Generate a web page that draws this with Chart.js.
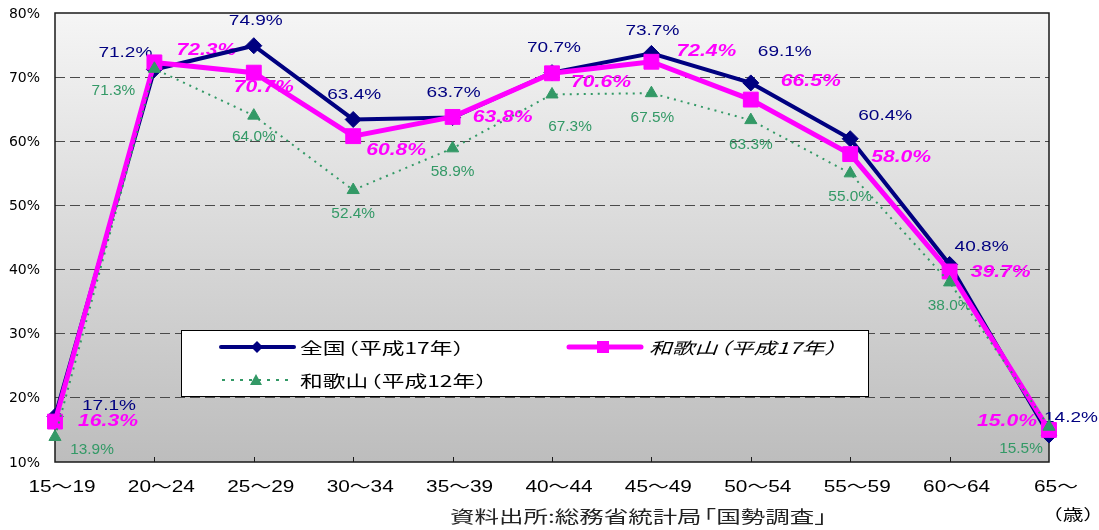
<!DOCTYPE html>
<html lang="ja">
<head>
<meta charset="utf-8">
<title>年齢階級別 女性の労働力率</title>
<script src="https://cdn.jsdelivr.net/npm/chart.js@4.4.1/dist/chart.umd.min.js"></script>
<style>
  html, body { margin: 0; padding: 0; background: #fff; }
  #wrap { width: 1099px; height: 530px; position: relative; }
  canvas { display: block; }
</style>
</head>
<body>
<div id="wrap"><canvas id="chart" width="1099" height="530"></canvas></div>
<script>
// ---- data ----
const ageGroups = ['15～19', '20～24', '25～29', '30～34', '35～39', '40～44',
                   '45～49', '50～54', '55～59', '60～64', '65～'];
const national2005 = [17.1, 71.2, 74.9, 63.4, 63.7, 70.7, 73.7, 69.1, 60.4, 40.8, 14.2];
const wakayama2005 = [16.3, 72.3, 70.7, 60.8, 63.8, 70.6, 72.4, 66.5, 58.0, 39.7, 15.0];
const wakayama2000 = [13.9, 71.3, 64.0, 52.4, 58.9, 67.3, 67.5, 63.3, 55.0, 38.0, 15.5];
const seriesNames = ['全国（平成17年）', '和歌山（平成17年）', '和歌山（平成12年）'];
const yMin = 10, yMax = 80, yStep = 10;
const unitLabel = '（歳）';
const sourceNote = '資料出所:総務省統計局「国勢調査」';

// ---- value label placement (offset of label centre from its point, px) ----
const nationalLabelOffsets = [[54, -11], [-29, -17], [2, -25], [1, -25], [1, -25], [2, -25],
                              [1, -23], [34, -31], [35, -23], [32, -18], [22, -17]];
const wakayama2005LabelOffsets = [[53, 0], [52, -12], [10, 15], [43, 14], [50, 1], [49, 9],
                                  [55, -10], [60, -18], [51, 3], [51, 1], [-42, -8]];
const wakayama2000LabelOffsets = [[37, 13], [-41, 22], [0, 22], [0, 24], [0, 24], [18, 33],
                                  [1, 25], [0, 25], [0, 24], [0, 24], [-28, 22]];

// ---- colours / fonts ----
const NAVY = '#000080', MAGENTA = '#ff00ff', GREEN = '#339966';
const LATIN = '"Liberation Sans", Arial, sans-serif';
const CJK = '"Noto Sans CJK JP", "Noto Sans", sans-serif';

// horizontally widened text
function wideText(ctx, text, x, y, font, color, align, sx) {
  ctx.save();
  ctx.font = font;
  ctx.fillStyle = color;
  ctx.textAlign = align || 'center';
  ctx.textBaseline = 'middle';
  ctx.translate(x, y);
  ctx.scale(sx || 1, 1);
  ctx.fillText(text, 0, 0);
  ctx.restore();
}

// widened CJK text with tightened full-width brackets
function cjkText(ctx, text, x, y, size, style, color, sx) {
  const open = '（「', close = '）」';
  ctx.save();
  ctx.font = (style ? style + ' ' : '') + size + 'px ' + CJK;
  ctx.fillStyle = color;
  ctx.textAlign = 'left';
  ctx.textBaseline = 'middle';
  ctx.translate(x, y);
  ctx.scale(sx, 1);
  let pos = 0;
  for (const ch of text) {
    if (open.includes(ch)) pos -= size * 0.4;
    ctx.fillText(ch, pos, 0);
    let w = ctx.measureText(ch).width;
    if (close.includes(ch)) w -= size * 0.4;
    pos += w;
  }
  ctx.restore();
}

const plotBackground = {
  id: 'plotBackground',
  beforeDraw(chart) {
    const { ctx, chartArea: a } = chart;
    const g = ctx.createLinearGradient(0, a.top, 0, a.bottom);
    g.addColorStop(0, '#f5f5f5');
    g.addColorStop(1, '#bdbdbd');
    ctx.save();
    ctx.fillStyle = g;
    ctx.fillRect(a.left, a.top, a.right - a.left, a.bottom - a.top);
    ctx.restore();
  }
};

// frame, inner category ticks and the value labels (drawn beneath the lines)
const frameAndLabels = {
  id: 'frameAndLabels',
  beforeDatasetsDraw(chart) {
    const { ctx, chartArea: a } = chart;
    const xs = chart.scales.x;
    ctx.save();
    ctx.strokeStyle = '#1a1a1a';
    ctx.lineWidth = 1.5;
    ctx.strokeRect(a.left, a.top, a.right - a.left, a.bottom - a.top);
    ctx.lineWidth = 1;
    for (let i = 1; i < ageGroups.length - 1; i++) {
      const x = Math.round(xs.getPixelForValue(i)) + 0.5;
      ctx.beginPath();
      ctx.moveTo(x, a.bottom);
      ctx.lineTo(x, a.bottom - 5);
      ctx.stroke();
    }
    ctx.restore();

    const styles = [
      { offsets: nationalLabelOffsets, font: '15px ' + LATIN, color: NAVY, sx: 1.27 },
      { offsets: wakayama2005LabelOffsets, font: 'italic bold 16px ' + LATIN, color: MAGENTA, sx: 1.32 },
      { offsets: wakayama2000LabelOffsets, font: '14px ' + LATIN, color: GREEN, sx: 1.1 }
    ];
    chart.data.datasets.forEach((ds, d) => {
      const meta = chart.getDatasetMeta(d);
      const st = styles[d];
      meta.data.forEach((pt, i) => {
        const [dx, dy] = st.offsets[i];
        wideText(ctx, ds.data[i].toFixed(1) + '%', pt.x + dx, pt.y + dy, st.font, st.color, 'center', st.sx);
      });
    });
  }
};

// legend box inside the plot
const legendBox = {
  id: 'legendBox',
  afterDatasetsDraw(chart) {
    const { ctx } = chart;
    ctx.save();
    ctx.fillStyle = '#fff';
    ctx.fillRect(181, 330, 687, 66);
    ctx.strokeStyle = '#000';
    ctx.lineWidth = 1;
    ctx.strokeRect(181.5, 330.5, 687, 66);

    // 全国
    ctx.strokeStyle = NAVY; ctx.fillStyle = NAVY;
    ctx.lineWidth = 4; ctx.lineCap = 'round';
    ctx.beginPath(); ctx.moveTo(221, 347); ctx.lineTo(294, 347); ctx.stroke();
    ctx.beginPath();
    ctx.moveTo(257, 341); ctx.lineTo(263, 347); ctx.lineTo(257, 353); ctx.lineTo(251, 347);
    ctx.closePath(); ctx.fill();

    // 和歌山 H17
    ctx.strokeStyle = MAGENTA; ctx.fillStyle = MAGENTA;
    ctx.lineWidth = 5;
    ctx.beginPath(); ctx.moveTo(569, 347); ctx.lineTo(641, 347); ctx.stroke();
    ctx.fillRect(597, 341, 12, 12);

    // 和歌山 H12
    ctx.strokeStyle = GREEN; ctx.fillStyle = GREEN;
    ctx.lineWidth = 2; ctx.lineCap = 'butt';
    ctx.setLineDash([3, 6]);
    ctx.beginPath(); ctx.moveTo(222, 380); ctx.lineTo(292, 380); ctx.stroke();
    ctx.setLineDash([]);
    ctx.beginPath();
    ctx.moveTo(256, 374); ctx.lineTo(262, 385); ctx.lineTo(250, 385);
    ctx.closePath(); ctx.fill();
    ctx.restore();

    cjkText(ctx, seriesNames[0], 300, 348, 16, '', '#000', 1.42);
    cjkText(ctx, seriesNames[1], 649, 348, 16, 'italic', '#000', 1.42);
    cjkText(ctx, seriesNames[2], 300, 381, 16, '', '#000', 1.42);
  }
};

// axis labels, unit and source line
const outerText = {
  id: 'outerText',
  afterDraw(chart) {
    const { ctx } = chart;
    const xs = chart.scales.x, ys = chart.scales.y;
    for (let v = yMin; v <= yMax; v += yStep) {
      wideText(ctx, v + '%', 40, ys.getPixelForValue(v) + 1, '14px "DejaVu Sans", ' + LATIN, '#000', 'right', 1);
    }
    ageGroups.forEach((lab, i) => {
      wideText(ctx, lab, xs.getPixelForValue(i) + 7, 488, '16px ' + LATIN + ', ' + CJK, '#000', 'center', 1.3);
    });
    wideText(ctx, unitLabel, 1073, 514, '15px ' + CJK, '#000', 'center', 1.38);
    cjkText(ctx, sourceNote, 450, 517, 17, '', '#222', 1.44);
  }
};

new Chart(document.getElementById('chart'), {
  type: 'line',
  data: {
    labels: ageGroups,
    datasets: [
      {
        label: seriesNames[0], data: national2005,
        borderColor: NAVY, backgroundColor: NAVY, borderWidth: 4,
        pointStyle: 'rectRot', pointRadius: 8, pointBorderWidth: 1,
        pointBackgroundColor: NAVY, pointBorderColor: NAVY,
        tension: 0, clip: false, order: 3
      },
      {
        label: seriesNames[1], data: wakayama2005,
        borderColor: MAGENTA, backgroundColor: MAGENTA, borderWidth: 5,
        pointStyle: 'rect', pointRadius: 10.5, pointBorderWidth: 1,
        pointBackgroundColor: MAGENTA, pointBorderColor: MAGENTA,
        tension: 0, clip: false, order: 2
      },
      {
        label: seriesNames[2], data: wakayama2000,
        borderColor: GREEN, backgroundColor: GREEN, borderWidth: 2, borderDash: [2, 5],
        pointStyle: 'triangle', pointRadius: 7, pointBorderWidth: 1,
        pointBackgroundColor: GREEN, pointBorderColor: GREEN,
        tension: 0, clip: false, order: 1
      }
    ]
  },
  options: {
    responsive: false,
    animation: false,
    devicePixelRatio: 1,
    events: [],
    layout: { padding: { top: 13, right: 50, left: 0, bottom: 0 } },
    plugins: { legend: { display: false }, tooltip: { enabled: false } },
    scales: {
      x: {
        offset: false,
        grid: { display: false },
        border: { display: false },
        ticks: { display: false },
        afterFit(s) { s.height = 68; }
      },
      y: {
        min: yMin, max: yMax,
        ticks: { stepSize: yStep, display: false },
        grid: {
          drawTicks: false,
          lineWidth: 1,
          color: c => (c.tick && (c.tick.value === yMin || c.tick.value === yMax)) ? 'rgba(0,0,0,0)' : '#4a4a4a'
        },
        border: { display: false, dash: [10, 5] },
        afterFit(s) { s.width = 55; }
      }
    }
  },
  plugins: [plotBackground, frameAndLabels, legendBox, outerText]
});
</script>
</body>
</html>
